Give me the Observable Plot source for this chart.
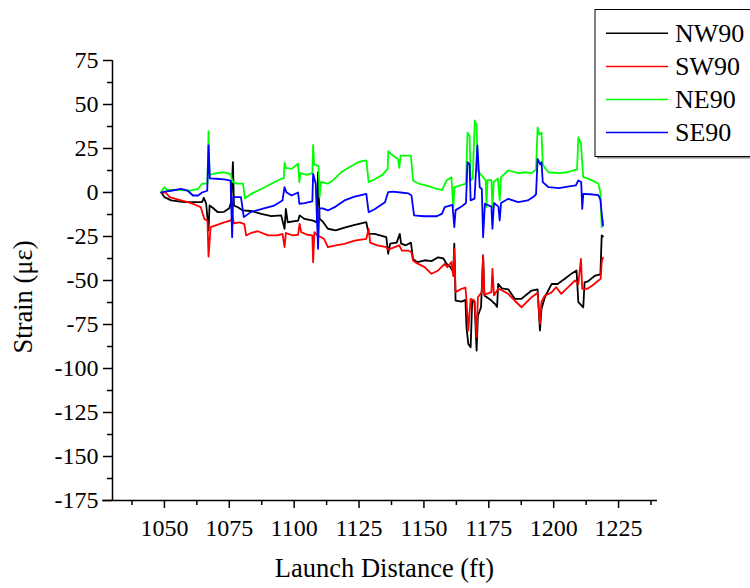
<!DOCTYPE html>
<html>
<head>
<meta charset="utf-8">
<script src="https://cdn.jsdelivr.net/npm/d3@7"></script>
<script src="https://cdn.jsdelivr.net/npm/@observablehq/plot@0.6"></script>
<style>
  html, body { margin: 0; padding: 0; background: #fff; }
  #chart { position: relative; width: 750px; height: 588px; }
  #chart svg text { font-family: "Liberation Serif", "Times New Roman", Times, "DejaVu Serif", serif; }
</style>
</head>
<body>
<div id="chart"></div>
<script>
// ---- data (x = launch distance ft, y = strain µε) ----
const seriesNames = ["NW90", "SW90", "NE90", "SE90"];
const seriesColors = ["#000000", "#ff0000", "#00ff00", "#0000ff"];

const NW90 = [
  [1048.8,0],[1050,-2.6],[1052.6,-4.5],[1057.7,-5.5],[1061,-5.5],[1064.5,-5.5],[1065.2,-3],[1066.1,-6.4],
  [1067,-21.6],[1067.4,-7.4],[1068.5,-8.5],[1070.6,-11.2],[1073,-11],[1075,-9],[1075.7,-5.5],[1076.4,17.2],
  [1076.8,-7.4],[1078.5,-8.5],[1080.2,-10.2],[1083.4,-10.5],[1087.3,-12.1],[1091.2,-13.4],[1095,-13],
  [1096.3,-20.6],[1096.8,-9.3],[1097.5,-16.9],[1101.5,-16],[1102.1,-13],[1104,-15],[1107.3,-16],[1108.7,-17],
  [1109.2,11.6],[1109.8,-15],[1111,-16.5],[1113,-20.6],[1116,-21.5],[1119.4,-20],[1123,-18.5],[1127.8,-16.9],
  [1128.7,-23.5],[1131,-23.5],[1135.5,-25.4],[1136.2,-34.8],[1137,-29],[1139.5,-28.5],[1140.7,-23.5],
  [1141.2,-29],[1143,-30],[1145,-28.5],[1145.8,-37.7],[1147.5,-39.6],[1150.3,-38.5],[1152.9,-39],
  [1155.5,-36.8],[1157.5,-37.5],[1158.7,-40.5],[1160,-42],[1161.3,-45],[1161.7,-29],[1162.2,-61.4],
  [1164.5,-62],[1166,-61],[1166.4,-76.5],[1167.1,-86],[1168,-87.9],[1168.6,-61.4],[1169.5,-62.5],
  [1170.3,-89.8],[1170.8,-70],[1172,-65.2],[1172.8,-35.8],[1173.3,-58.5],[1176,-61.4],[1177.5,-63.5],
  [1178.2,-65],[1178.6,-51.9],[1180,-54.5],[1182.5,-55],[1185,-60.4],[1187.6,-60.4],[1191.5,-55.7],
  [1193.8,-55],[1194.7,-78.4],[1195.3,-66],[1196.6,-59.5],[1199.2,-51.9],[1201.5,-52],[1204.3,-49],
  [1206.5,-46.5],[1208.8,-44.3],[1209.5,-62.3],[1211.4,-65.2],[1211.9,-51],[1213.2,-50.5],[1216,-47.2],
  [1218,-46.5],[1218.5,-24.4],[1219,-25]
];

const SW90 = [
  [1048.8,0],[1050.5,0],[1052,-2.6],[1054,-3.5],[1056.4,-4.5],[1059,-5.5],[1061.6,-6.8],[1064,-8.3],
  [1065.4,-15],[1066.6,-16],[1067,-36.4],[1067.8,-19.7],[1070.6,-18.2],[1073,-17],[1075.7,-15.9],
  [1076.2,-13],[1076.8,-17.5],[1079,-17],[1080.8,-18],[1081.5,-24.4],[1083.4,-23],[1086,-22],[1089.9,-24.4],
  [1093.5,-24.4],[1095.5,-23.5],[1096.3,-31],[1096.8,-23],[1099.5,-24.4],[1101.5,-24],[1102.1,-17.8],
  [1102.7,-22.5],[1105,-24],[1107,-24.4],[1107.3,-39.6],[1107.8,-22.5],[1109,-24.4],[1111.5,-26.3],
  [1113,-31],[1116,-30],[1119.4,-29.2],[1123.3,-27.3],[1127.8,-26.3],[1128.7,-20.6],[1129.3,-28.5],
  [1132,-30],[1135.5,-31],[1136.2,-32.5],[1138,-31.5],[1140.5,-30],[1141.5,-33],[1144,-33],[1145.2,-34],
  [1145.8,-38.6],[1147,-40],[1150.3,-42.4],[1152.9,-46.2],[1155.5,-44.3],[1158,-40.5],[1159,-42.5],
  [1160.6,-39.5],[1161.3,-47.5],[1161.7,-32],[1162.2,-56.6],[1164.5,-54.7],[1166,-54],[1166.4,-61.4],
  [1167.1,-78.4],[1168,-60.4],[1169.5,-61.4],[1170.3,-82.2],[1170.8,-59.5],[1172.3,-56.6],[1172.8,-35.8],
  [1173.3,-58],[1176,-56.6],[1176.4,-43.4],[1177,-58.5],[1178.6,-54.7],[1180,-55.5],[1182.5,-57.6],
  [1185,-61.5],[1187.6,-65.2],[1191.5,-59.5],[1193.8,-57],[1194.7,-74.6],[1195.3,-62],[1196.6,-58.5],
  [1199,-57],[1201,-53.8],[1202.9,-57.6],[1205.6,-53.8],[1208.2,-50],[1209.5,-52],[1210.5,-37.7],
  [1211,-54.7],[1213,-54.7],[1214.9,-52.8],[1218.1,-49],[1218.5,-39.6],[1219,-37]
];

const NE90 = [
  [1048.8,0.6],[1050,3],[1051,1.5],[1055,1.5],[1060,1],[1063,2],[1064.5,5],[1066.6,5],[1067,34.8],
  [1067.4,10],[1070,11],[1073,11.5],[1075.5,10.5],[1076.3,6],[1078,5],[1080.3,5],[1081,-3.4],[1083.4,-0.8],
  [1087.3,2],[1091.2,5],[1095,7.8],[1096,8],[1096.3,17],[1096.8,14],[1099,13.4],[1101.5,16.3],[1102,5.9],
  [1102.4,11],[1105,10],[1107,11],[1107.3,27],[1107.7,16],[1109.4,15],[1109.8,-2.6],[1110.3,6],[1113,5],
  [1115,7],[1118.2,11.6],[1121.3,14.4],[1124.6,17.2],[1127.8,18.2],[1128.7,5.9],[1131,7.5],[1134,10],
  [1136,13.4],[1136.3,23.5],[1138,21],[1140,19],[1140.5,14],[1141,21],[1143,21],[1145,21],[1145.8,6.8],
  [1148,5],[1152,3.5],[1155,2],[1157,1.5],[1158.7,6.8],[1160.6,8.7],[1161.3,-8.3],[1161.8,3],[1164,4],
  [1166.2,5],[1166.8,34],[1167.6,32],[1168,6.8],[1168.8,8],[1169.6,40.9],[1170.3,38],[1170.7,12.5],
  [1172,10],[1173.8,7],[1174.1,-8.3],[1174.5,7],[1176,7],[1176.4,-8.3],[1176.9,6],[1178.5,8],[1179.2,-4.5],
  [1179.7,8.7],[1182.5,12.5],[1186.5,11],[1189,11.5],[1191.5,11],[1193.2,13],[1193.8,37],[1194.5,33],
  [1195.3,34],[1195.8,16],[1196.6,14],[1198,11.5],[1202,11],[1205,11.5],[1207.5,12.5],[1209,13],
  [1209.5,31.4],[1210.5,28],[1211.4,8.7],[1213,8],[1216,6],[1217.2,5],[1218,0],[1218.5,-19.7],[1219,-16]
];

const SE90 = [
  [1048.8,0],[1050,0.5],[1052.6,1],[1056.4,2],[1059,1],[1061,-1.7],[1063,-1.7],[1064.5,0],[1066.5,1],
  [1067,26.7],[1067.5,8],[1070,7.8],[1073,7.5],[1075.5,6.8],[1076.1,-25.4],[1076.5,-2.6],[1079.5,-2.6],
  [1080.6,-14],[1083.4,-11],[1087.3,-9.5],[1092.3,-7.4],[1095.5,-4.5],[1096.3,3],[1097,0.2],[1099,-1.7],
  [1101.5,0],[1102,-6.4],[1104,-6],[1107,-5],[1107.3,10.6],[1108.3,5],[1109.2,-32],[1109.7,-9],[1111,-9],
  [1113,-10.2],[1116,-8],[1119.4,-4.5],[1123,-2.5],[1127.8,-0.8],[1128.7,-11.2],[1131,-9.5],[1135,-5.5],
  [1136.2,0.2],[1138,0.5],[1141,0],[1144,-0.5],[1145.2,-1.7],[1146.2,-13],[1150,-13.5],[1155,-13.5],
  [1157,-12],[1158,-8.3],[1161,-7],[1161.7,-19.7],[1162.2,-10],[1164.5,-8],[1166.2,-6],[1166.8,17.2],
  [1167.6,16],[1168,-4.5],[1169.5,-3.5],[1170.6,26.7],[1171.5,3],[1172.3,2],[1172.8,-25.4],[1173.5,-6.4],
  [1176,-8],[1176.4,-20.6],[1177,-6],[1178.7,-8],[1179.2,-15.9],[1179.7,-6],[1182.5,-3.6],[1186.3,-5.5],
  [1190,-4.5],[1192.1,-2.6],[1193.2,-1],[1193.8,19.1],[1194.8,16],[1195.3,17.2],[1195.8,5.9],[1198,3],
  [1202,2.5],[1206,3.5],[1208.5,4],[1209.5,6.8],[1210.6,6],[1211,-9.3],[1211.4,-0.8],[1214,-1],
  [1217.2,-1.5],[1218,-4],[1218.5,-12],[1219,-18.8]
];

const xDomain = [1030, 1240];
const yDomain = [-175, 75];
const xTicks = [1050, 1075, 1100, 1125, 1150, 1175, 1200, 1225];
const xMinorTicks = [1037.5, 1062.5, 1087.5, 1112.5, 1137.5, 1162.5, 1187.5, 1212.5, 1237.5];
const yTicks = [-175, -150, -125, -100, -75, -50, -25, 0, 25, 50, 75];
const yMinorTicks = [-162.5, -137.5, -112.5, -87.5, -62.5, -37.5, -12.5, 12.5, 37.5, 62.5];
const xTitle = "Launch Distance (ft)";
const yTitle = "Strain (\u03bc\u03b5)";

const allSeries = [NW90, SW90, NE90, SE90];
const FONT = "Liberation Serif, Times New Roman, Times, DejaVu Serif, serif";

const lineMarks = allSeries.map((s, i) =>
  Plot.line(s, {x: d => d[0], y: d => d[1], stroke: seriesColors[i], strokeWidth: 1.8})
);

const plot = Plot.plot({
  width: 750,
  height: 588,
  marginLeft: 112,
  marginRight: 93,
  marginTop: 60,
  marginBottom: 88,
  x: {domain: xDomain},
  y: {domain: yDomain},
  style: {fontFamily: FONT, fontSize: "24px", color: "#000", background: "#fff", overflow: "visible"},
  marks: [
    Plot.axisX({ticks: xMinorTicks, tickSize: 5, tickFormat: () => "", label: null, strokeWidth: 1.5}),
    Plot.axisX({ticks: xTicks, tickSize: 8, tickPadding: 10, label: null, fontSize: 24, strokeWidth: 1.5,
                tickFormat: d => String(d)}),
    Plot.axisY({ticks: yMinorTicks, tickSize: 5, tickFormat: () => "", label: null, strokeWidth: 1.5}),
    Plot.axisY({ticks: yTicks, tickSize: 9, tickPadding: 5, label: null, fontSize: 24, strokeWidth: 1.5,
                tickFormat: d => String(d)}),
    Plot.ruleX([xDomain[0]], {y1: yDomain[0], y2: yDomain[1], strokeWidth: 1.5}),
    Plot.ruleY([yDomain[0]], {x1: xDomain[0] - 3.8, x2: xDomain[1], strokeWidth: 1.5, clip: false}),
    ...lineMarks
  ]
});

document.getElementById("chart").appendChild(plot);

// titles and legend
const svg = d3.select(plot);
const xs = plot.scale("x");
const xMid = (xs.range[0] + xs.range[1]) / 2;

svg.append("text")
  .attr("x", xMid).attr("y", 577)
  .attr("text-anchor", "middle")
  .attr("font-size", 26.5).attr("fill", "#000")
  .text(xTitle);

svg.append("text")
  .attr("transform", "translate(32,297) rotate(-90)")
  .attr("text-anchor", "middle")
  .attr("font-size", 26.5).attr("fill", "#000")
  .text(yTitle);

const lg = svg.append("g");
lg.append("rect").attr("x", 597).attr("y", 11.5).attr("width", 160).attr("height", 147)
  .attr("fill", "#888");
lg.append("rect").attr("x", 595).attr("y", 9.5).attr("width", 160).attr("height", 147)
  .attr("fill", "#fff").attr("stroke", "#000").attr("stroke-width", 1);
seriesNames.forEach((name, i) => {
  const yy = 33.3 + i * 33.1;
  lg.append("line").attr("x1", 606).attr("x2", 668).attr("y1", yy).attr("y2", yy)
    .attr("stroke", seriesColors[i]).attr("stroke-width", 1.5);
  lg.append("text").attr("x", 675).attr("y", yy + 8.6)
    .attr("text-anchor", "start")
    .attr("font-size", 26).attr("fill", "#000")
    .text(name);
});
</script>
</body>
</html>
